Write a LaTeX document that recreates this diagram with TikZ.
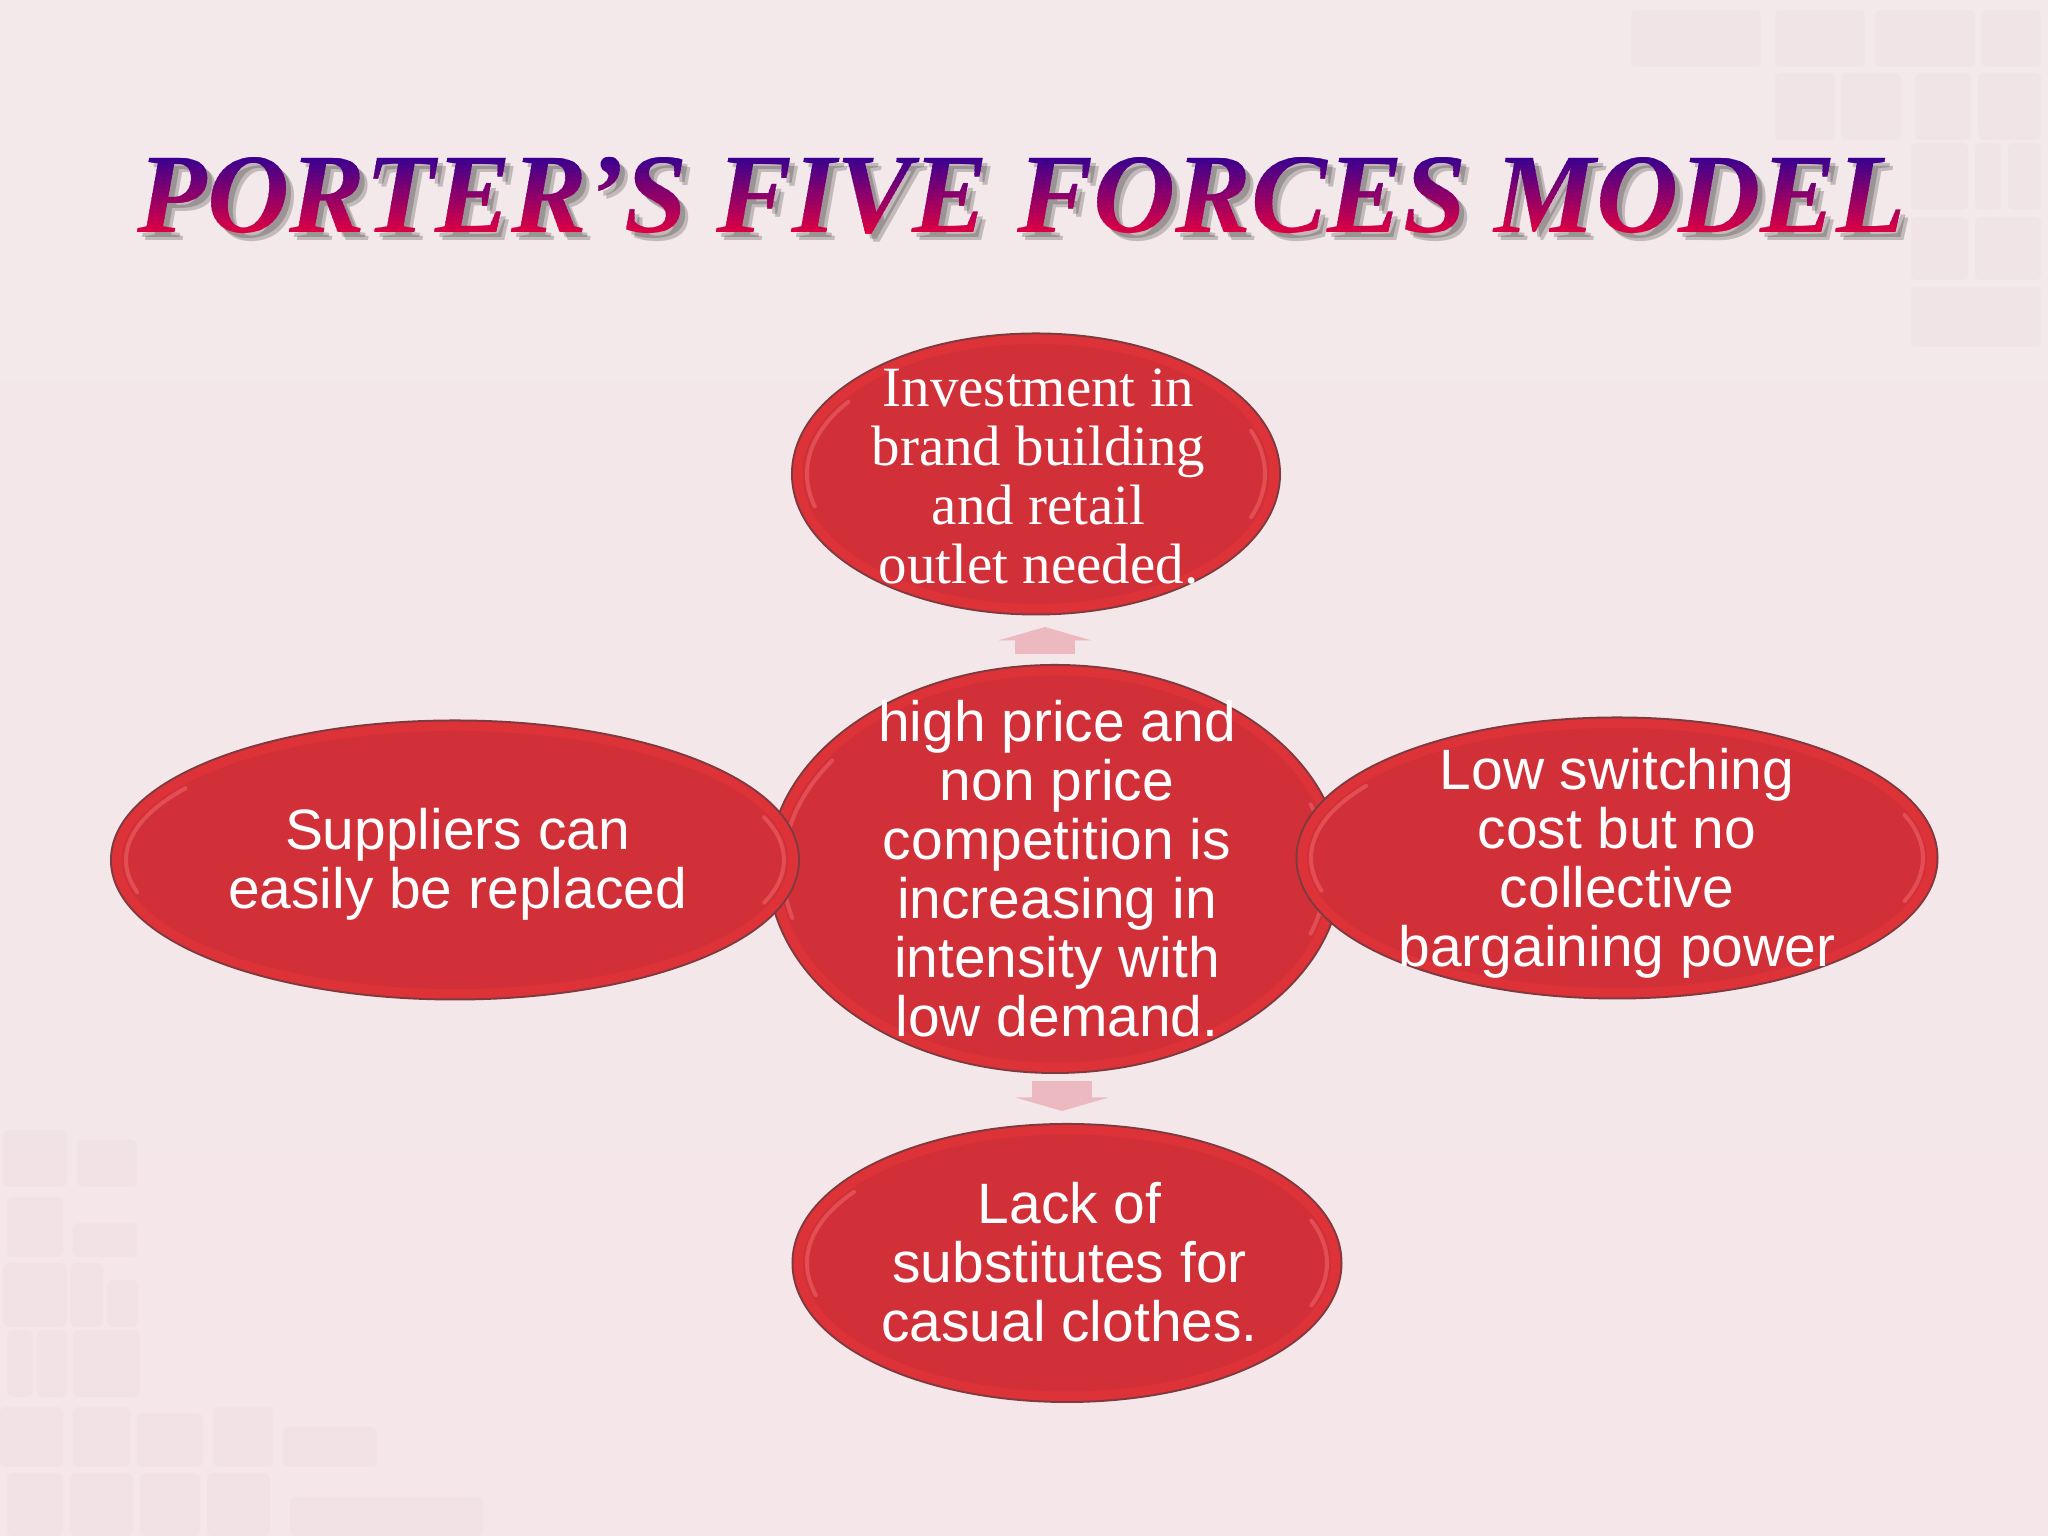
\documentclass[tikz,border=0pt]{standalone}
\usepackage{fontspec}
\setmainfont{Liberation Sans}
\newfontfamily\serifface{Liberation Serif}
\newfontfamily\titleface[FakeStretch=1.006]{Liberation Serif}
\usepackage{tikz}
\usetikzlibrary{positioning}
\usetikzlibrary{shapes.geometric}
\usetikzlibrary{arrows.meta}
\definecolor{paper}{HTML}{F5E6E9}
\definecolor{papertop}{HTML}{F3E8EA}
\definecolor{tilepink}{HTML}{EBD9DD}
\definecolor{ovalred}{HTML}{D13038}
\definecolor{ovalrim}{HTML}{DC3238}
\definecolor{ovaledge}{HTML}{7E3A3E}
\definecolor{glintpink}{HTML}{EE6266}
\definecolor{arrowpink}{HTML}{EBB9BF}
\definecolor{titletop}{HTML}{2A0098}
\definecolor{titlebot}{HTML}{E40040}
\newcommand{\titletext}{\titleface\fontsize{32.2}{36}\selectfont\bfseries\itshape PORTER’S FIVE FORCES MODEL}
\newcommand{\ovalglint}[3]{
  \draw[glint] (#1) ++(145:#2cm and #3cm) arc[start angle=145,end angle=195,x radius=#2cm,y radius=#3cm];
  \draw[glint] (#1) ++(-20:#2cm and #3cm) arc[start angle=-20,end angle=20,x radius=#2cm,y radius=#3cm];
}

\begin{document}
\begin{tikzpicture}
\tikzset{oval/.style={ellipse,inner sep=0pt,
  preaction={draw=ovaledge,line width=0.23cm},preaction={draw=ovalrim,line width=0.19cm},fill=ovalred}}
\tikzset{ovaltext/.style={text=white,align=center,inner sep=0pt,font=\fontsize{16.2}{16.8}\selectfont}}
\tikzset{glint/.style={glintpink,line width=0.04cm,line cap=round,opacity=0.6}}
\tikzset{force/.style={arrowpink,line width=0.6cm,-{Triangle[width=0.93cm,length=0.135cm]}}}
\tikzset{tile/.style={fill=tilepink,rounded corners=0.06cm,opacity=0.25}}
\useasboundingbox (0,0) rectangle (20.48,15.36);
\shade[top color=papertop,bottom color=paper] (0,0) rectangle (20.48,15.36);
% faint tiles in the corners
\foreach \xa/\ya/\xb/\yb in {.03/4.06/.67/3.49,.77/3.96/1.37/3.49,.07/3.39/.63/2.79,.73/3.13/1.37/2.79,
  .03/2.73/.67/2.09,.7/2.73/1.03/2.09,1.07/2.56/1.38/2.09,.07/2.06/.33/1.39,.37/2.06/.67/1.39,.73/2.06/1.4/1.39,
  0/1.29/.63/.69,.73/1.29/1.3/.69,1.37/1.23/2.03/.69,2.13/1.29/2.73/.69,2.83/1.09/3.77/.69,
  .07/.63/.63/0,.7/.63/1.33/0,1.4/.63/2/0,2.07/.63/2.7/0,2.9/.39/4.83/0}
  \fill[tile] (\xa,\ya) rectangle (\xb,\yb);
\foreach \xa/\ya/\xb/\yb in {16.31/15.26/17.61/14.69,17.75/15.26/18.65/14.69,18.75/15.26/19.75/14.69,19.81/15.26/20.41/14.69,
  17.75/14.63/18.35/13.96,18.41/14.63/19.01/13.96,19.15/14.63/19.71/13.96,19.78/14.63/20.41/13.96,
  19.11/13.93/19.68/13.26,19.75/13.93/20.01/13.26,20.08/13.93/20.41/13.26,
  19.11/13.19/19.68/12.56,19.75/13.19/20.41/12.56,19.11/12.49/20.41/11.89}
  \fill[tile] (\xa,\ya) rectangle (\xb,\yb);
% title with shadow, one clipped strip per colour step
\foreach \d in {0.05,0.08}
  \node[anchor=base,text=black,opacity=0.2] (titleshadow\d) at ({10.22+\d},{13.03-\d}) {\titletext};
\foreach \i in {0,...,21}{
  \pgfmathsetmacro{\mixval}{100-\i*100/21}
  \begin{scope}
  \clip (0,{13.86-\i*0.04}) rectangle (20.48,{13.86-\i*0.04-0.045});
  \node[anchor=base,text=titletop!\mixval!titlebot] (title\i) at (10.22,13.03) {\titletext};
  \end{scope}
}
% ovals
\node[oval,minimum width=4.67cm,minimum height=2.6cm] (brand) at (10.36,10.62) {};
\ovalglint{brand}{2.29}{1.26}
\node[oval,minimum width=5.28cm,minimum height=2.57cm] (lack) at (10.67,2.73) {};
\ovalglint{lack}{2.6}{1.24}
\node[oval,minimum width=5.52cm,minimum height=3.87cm] (rivalry) at (10.55,6.67) {};
\ovalglint{rivalry}{2.72}{1.89}
\node[oval,minimum width=6.67cm,minimum height=2.58cm] (suppliers) at (4.55,6.76) {};
\ovalglint{suppliers}{3.29}{1.25}
\node[oval,minimum width=6.2cm,minimum height=2.6cm] (buyers) at (16.17,6.78) {};
\ovalglint{buyers}{3.06}{1.26}
% texts on the ovals
\node[ovaltext,font=\serifface\fontsize{16.2}{16.8}\selectfont] (brandtext) at ([shift={(0.025,-0.025)}]brand.center) {Investment in\\brand building\\and retail\\outlet needed.};
\node[ovaltext] (lacktext) at ([shift={(0.025,0.012)}]lack.center) {Lack of\\substitutes for\\casual clothes.};
\node[ovaltext] (rivalrytext) at ([shift={(0.02,0)}]rivalry.center) {high price and\\non price\\competition is\\increasing in\\intensity with\\low demand.};
\node[ovaltext] (supplierstext) at ([shift={(0.025,-0.04)}]suppliers.center) {Suppliers can\\easily be replaced};
\node[ovaltext] (buyerstext) at ([shift={(0,-0.05)}]buyers.center) {Low switching\\cost but no\\collective\\bargaining power};
% arrows between the ovals
\coordinate (upfoot) at (10.45,8.82);
\coordinate (uptip) at (10.45,9.09);
\coordinate (downfoot) at (10.62,4.55);
\coordinate (downtip) at (10.62,4.25);
\draw[force] (upfoot) -- (uptip);
\draw[force] (downfoot) -- (downtip);
\end{tikzpicture}
\end{document}
